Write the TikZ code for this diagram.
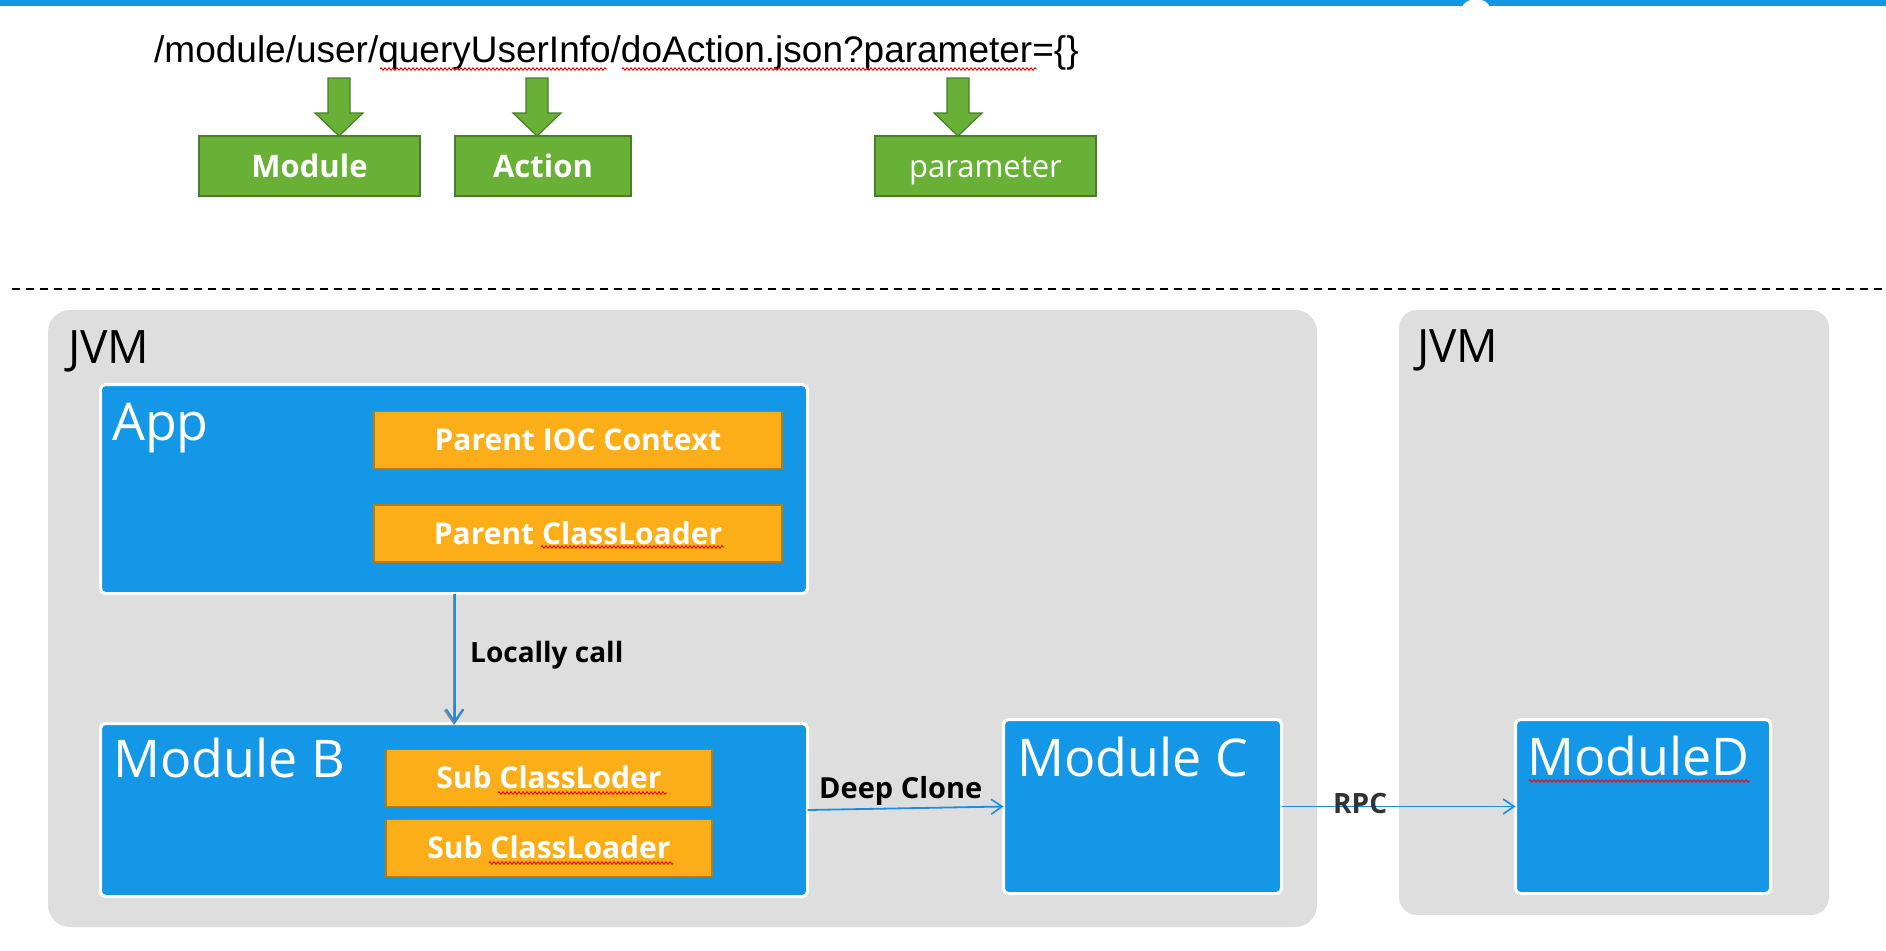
\documentclass[tikz,border=0pt]{standalone}
\usepackage{fontspec}
\setmainfont{Open Sans}
\newfontfamily\arialf{Liberation Sans}
\usetikzlibrary{arrows.meta,decorations.pathmorphing}
\definecolor{topblue}{HTML}{1496E6}
\definecolor{modblue}{HTML}{1497E6}
\definecolor{jvmgray}{HTML}{DEDEDE}
\definecolor{grfill}{HTML}{68B136}
\definecolor{grdraw}{HTML}{4A7D2A}
\definecolor{orfill}{HTML}{FBAE17}
\definecolor{ordraw}{HTML}{B97B0C}
\definecolor{lnblue}{HTML}{1A8FE0}
\definecolor{callgray}{HTML}{8A8A8A}
\definecolor{rpccol}{HTML}{333333}
\tikzset{
  greenbox/.style={draw=grdraw, fill=grfill, line width=1.5pt, minimum height=60pt,
    text=white, font=\fontsize{31pt}{31pt}\selectfont, text height=22pt, text depth=0pt,
    inner sep=0pt, outer sep=0pt},
  garrow/.style={draw=grdraw, fill=grfill, line width=1.2pt, line join=miter},
  jvmbox/.style={fill=jvmgray, rounded corners=22pt, inner sep=0pt, outer sep=0pt},
  modbox/.style={draw=white, fill=modblue, line width=3pt, rounded corners=5pt,
    inner sep=0pt, outer sep=0pt},
  orbox/.style={draw=ordraw, fill=orfill, line width=1.5pt, minimum height=57pt,
    text=white, font=\bfseries\fontsize{30pt}{30pt}\selectfont, text height=21pt,
    text depth=0pt, inner sep=0pt, outer sep=0pt},
  bigtitle/.style={anchor=base west, inner sep=0pt, text=white,
    font=\fontsize{52pt}{52pt}\selectfont},
  jvmtitle/.style={anchor=base west, inner sep=0pt, text=black,
    font=\fontsize{46pt}{46pt}\selectfont},
  edgelabel/.style={anchor=base west, inner sep=0pt,
    font=\bfseries\fontsize{28pt}{28pt}\selectfont},
  callgrayline/.style={draw=callgray, line width=3pt,
    -{Straight Barb[length=13pt,width=18pt,line width=2.6pt]}},
  callblueline/.style={draw=lnblue, line width=1.6pt,
    -{Straight Barb[length=13pt,width=17pt,line width=1.6pt]}},
  blueline/.style={draw=lnblue, line width=1.8pt,
    -{Straight Barb[length=11pt,width=15pt,line width=1.6pt]}},
  squig/.style={draw=red, line width=0.9pt,
    decorate, decoration={zigzag, segment length=4pt, amplitude=1.3pt}}
}
\begin{document}
\begin{tikzpicture}[x=1pt,y=-1pt]
\useasboundingbox (0,0) rectangle (1886,950);
\fill[white] (0,0) rectangle (1886,950);
% top band
\fill[topblue] (0,0) rectangle (1886,6.5);
\fill[white] (1476,9) ellipse [x radius=14, y radius=10];

% URL
\node[anchor=base west, inner sep=0pt, font=\arialf\fontsize{37pt}{37pt}\selectfont] (url) at (154,63)
  {/module/user/queryUserInfo/doAction.json?parameter=\{\}};
\draw[squig] (380,69) -- (607,69);
\draw[squig] (622,69) -- (1037,69);

% green boxes
\node[greenbox, minimum width=221pt, font=\bfseries\fontsize{31pt}{31pt}\selectfont] (gm) at (309.5,166) {Module};
\node[greenbox, minimum width=176pt, font=\bfseries\fontsize{31pt}{31pt}\selectfont] (ga) at (543,166) {Action};
\node[greenbox, minimum width=221pt] (gp) at (985.5,166) {parameter};

\coordinate (a1) at (339,78);
\coordinate (a2) at (537,78);
\coordinate (a3) at (958,78);
\foreach \c/\b in {a1/gm, a2/ga, a3/gp}{
  \draw[garrow] (\c) ++(-11,0) -- ++(0,35) -- ++(-13,0) -- (\c |- \b.north)
    -- ++(24,-23) -- ++(-13,0) -- ++(0,-35) -- cycle;
}

% dashed separator
\draw[black, line width=2.2pt, dash pattern=on 8pt off 6pt] (12,289) -- (1886,289);

% JVM containers
\node[jvmbox, minimum width=1269pt, minimum height=617pt] (jvm1) at (682.5,618.5) {};
\node[jvmbox, rounded corners=18pt, minimum width=430pt, minimum height=605pt] (jvm2) at (1614,612.5) {};
\node[jvmtitle] (jvm1t) at (68,363) {JVM};
\node[jvmtitle] (jvm2t) at (1417,362) {JVM};

% module boxes
\node[modbox, minimum width=707pt, minimum height=209pt] (app) at (454,489) {};
\node[modbox, minimum width=707pt, minimum height=173pt] (modB) at (454,810) {};
\node[modbox, minimum width=278pt, minimum height=174pt] (modC) at (1142.5,806.5) {};
\node[modbox, minimum width=255pt, minimum height=174pt] (modD) at (1643,806.5) {};

\node[bigtitle] (appt) at (112,440) {App};
\node[bigtitle] (modBt) at (113,777) {Module B};
\node[bigtitle] (modCt) at (1017,776) {Module C};
\node[bigtitle] (modDt) at (1527,775) {ModuleD};
\draw[squig] (1529,781) -- (1750,781);

% orange boxes
\node[orbox, minimum width=408pt] (pioc) at (578,440) {Parent IOC Context};
\node[orbox, minimum width=408pt] (pcl) at (578,533.5) {Parent ClassLoader};
\node[orbox, minimum width=326pt] (scl1) at (549,778) {Sub ClassLoder};
\node[orbox, minimum width=326pt] (scl2) at (549,848) {Sub ClassLoader};
\draw[squig] (541,547) -- (724,547);
\draw[squig] (498,793) -- (667,793);
\draw[squig] (489,863) -- (673,863);

% connectors
\draw[callgrayline] (app.south) -- ([yshift=-1.5pt]modB.north);
\draw[callblueline] ([xshift=0.8pt]app.south) -- ([xshift=0.8pt]modB.north);
\node[edgelabel] (lc) at (470,662) {Locally call};
\draw[blueline] (modB.east) -- (modC.west);
\node[edgelabel, font=\bfseries\fontsize{29pt}{29pt}\selectfont] (dc) at (819,798) {Deep Clone};
\draw[blueline] (modC.east) -- (modD.west);
\node[edgelabel, text=rpccol] (rpc) at (1333,813) {RPC};
\end{tikzpicture}
\end{document}
